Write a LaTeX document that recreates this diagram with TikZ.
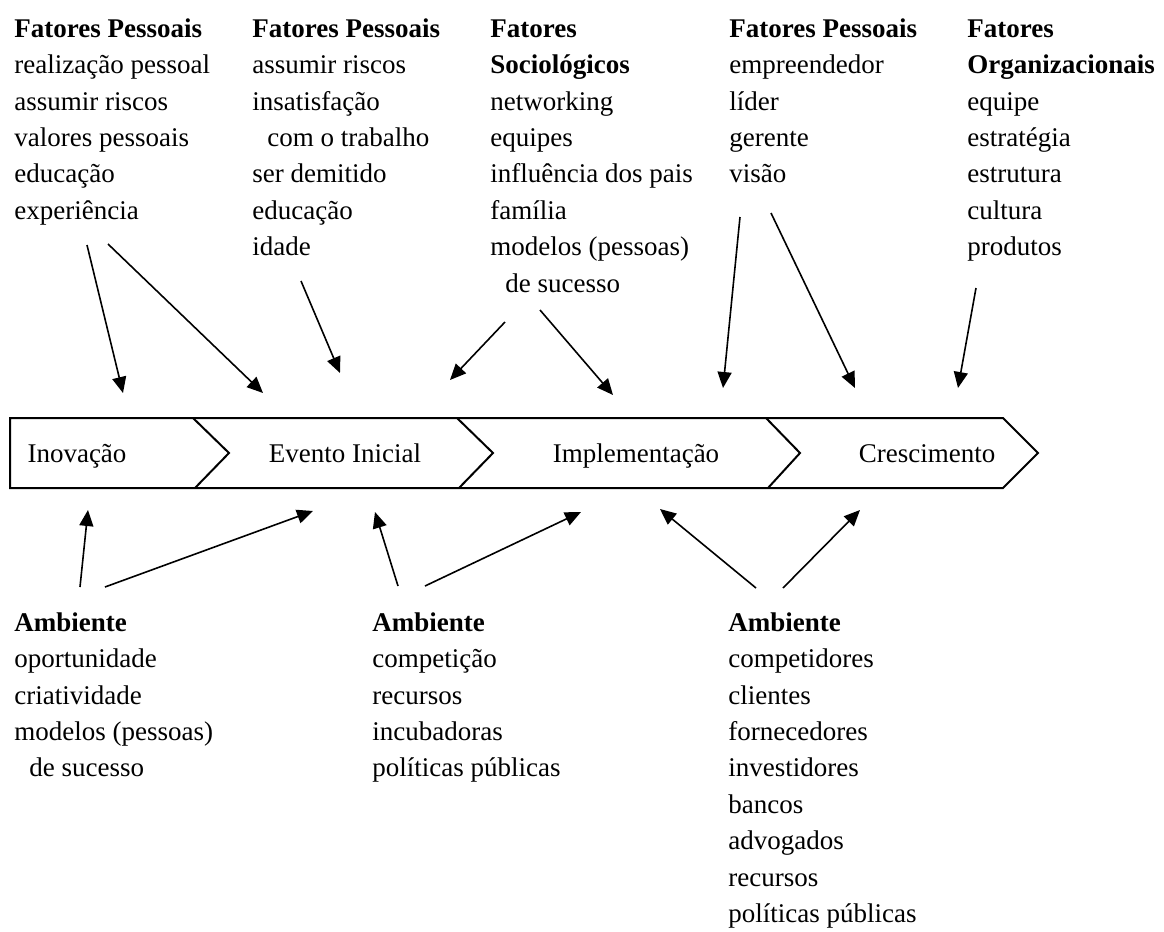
\documentclass[tikz,border=0pt]{standalone}
\usepackage{fontspec}
\setmainfont{Liberation Serif}
\usetikzlibrary{arrows.meta}

\tikzset{
  lista/.style={anchor=north west, inner sep=0pt, align=left,
    font=\fontsize{13.5}{18.2}\selectfont},
  etapa/.style={anchor=base, inner sep=0pt,
    font=\fontsize{13.5}{18.2}\selectfont},
  seta/.style={-{Triangle[length=8pt,width=7pt]}, line width=0.8pt},
  faixa/.style={line width=1pt, line join=miter},
}

\begin{document}
\begin{tikzpicture}[x=0.5pt, y=-0.5pt]
\useasboundingbox (0,0) rectangle (1164,932);

%faixa
\draw[faixa] (10,418) -- (1003,418) -- (1038,453) -- (1003,488) -- (10,488) -- cycle;
\draw[faixa] (193,418) -- (229,453) -- (195,488);
\draw[faixa] (457,418) -- (493,453) -- (459,488);
\draw[faixa] (766,418) -- (800,453) -- (768,488);

%etapas
\node[etapa] (inov) at (77,462) {Inovação};
\node[etapa] (evento) at (345,462) {Evento Inicial};
\node[etapa] (impl) at (636,462) {Implementação};
\node[etapa] (cresc) at (927,462) {Crescimento};

%fatores
\node[lista] (pess1) at (14,11.5) {\strut\textbf{Fatores Pessoais}\\
  realização pessoal\\ assumir riscos\\ valores pessoais\\ educação\\ experiência};
\node[lista] (pess2) at (252,11.5) {\strut\textbf{Fatores Pessoais}\\
  assumir riscos\\ insatisfação\\ \hspace*{7.5pt}com o trabalho\\ ser demitido\\ educação\\ idade};
\node[lista] (socio) at (490,11.5) {\strut\textbf{Fatores}\\ \textbf{Sociológicos}\\
  networking\\ equipes\\ influência dos pais\\ família\\ modelos (pessoas)\\
  \hspace*{7.5pt}de sucesso};
\node[lista] (pess3) at (729,11.5) {\strut\textbf{Fatores Pessoais}\\
  empreendedor\\ líder\\ gerente\\ visão};
\node[lista] (org) at (967,11.5) {\strut\textbf{Fatores}\\ \textbf{Organizacionais}\\
  equipe\\ estratégia\\ estrutura\\ cultura\\ produtos};

%ambiente
\node[lista] (amb1) at (14,605.5) {\strut\textbf{Ambiente}\\
  oportunidade\\ criatividade\\ modelos (pessoas)\\ \hspace*{7.5pt}de sucesso};
\node[lista] (amb2) at (372,605.5) {\strut\textbf{Ambiente}\\
  competição\\ recursos\\ incubadoras\\ políticas públicas};
\node[lista] (amb3) at (728,605.5) {\strut\textbf{Ambiente}\\
  competidores\\ clientes\\ fornecedores\\ investidores\\ bancos\\ advogados\\
  recursos\\ políticas públicas};

%pontas das setas
\coordinate (a1) at (87,245);   \coordinate (a1f) at (123,393);
\coordinate (a2) at (108,244);  \coordinate (a2f) at (263,393);
\coordinate (a3) at (301,281);  \coordinate (a3f) at (340,373);
\coordinate (a4) at (505,322);  \coordinate (a4f) at (450,380);
\coordinate (a5) at (540,310);  \coordinate (a5f) at (613,395);
\coordinate (a6) at (740,217);  \coordinate (a6f) at (723,388);
\coordinate (a7) at (771,213);  \coordinate (a7f) at (855,388);
\coordinate (a8) at (976,288);  \coordinate (a8f) at (958,388);

\coordinate (b1) at (80,587);   \coordinate (b1f) at (88,510);
\coordinate (b2) at (105,587);  \coordinate (b2f) at (313,511);
\coordinate (b3) at (398,586);  \coordinate (b3f) at (375,512);
\coordinate (b4) at (425,586);  \coordinate (b4f) at (581,512);
\coordinate (b5) at (756,588);  \coordinate (b5f) at (660,509);
\coordinate (b6) at (783,588);  \coordinate (b6f) at (860,510);

%setas
\foreach \s in {a1,a2,a3,a4,a5,a6,a7,a8,b1,b2,b3,b4,b5,b6}
  \draw[seta] (\s) -- (\s f);
\end{tikzpicture}
\end{document}
